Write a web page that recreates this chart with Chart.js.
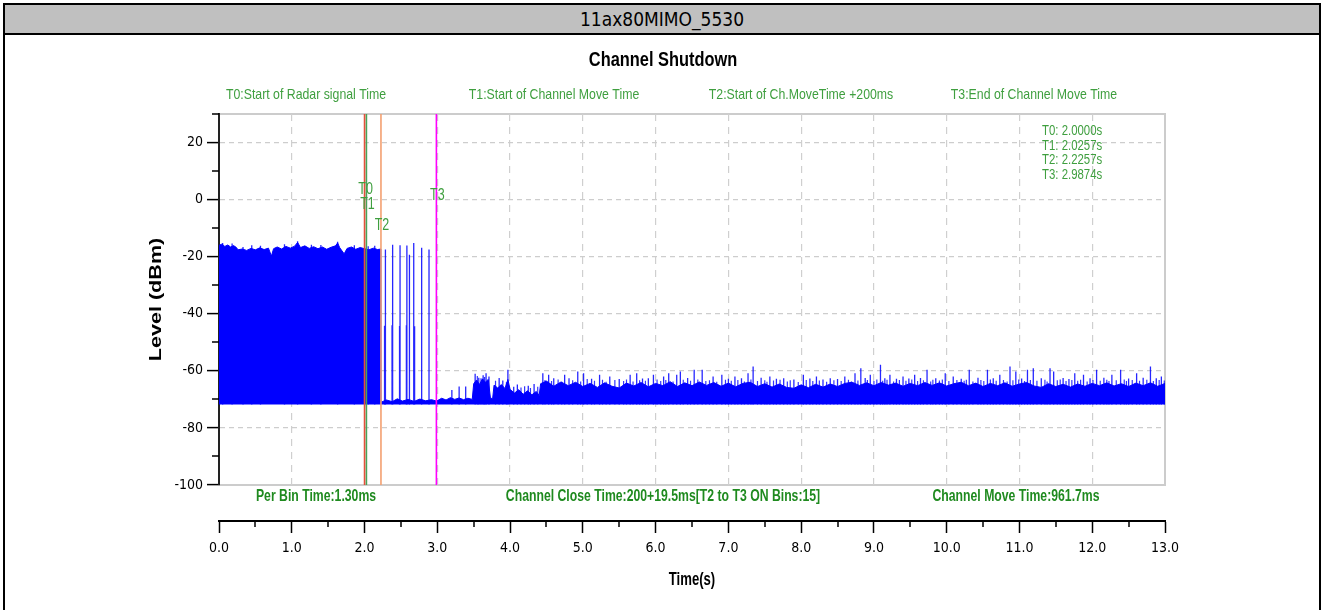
<!DOCTYPE html>
<html>
<head>
<meta charset="utf-8">
<script src="https://cdn.jsdelivr.net/npm/chart.js@4.4.1/dist/chart.umd.min.js"></script>
<style>
  body { margin: 0; background: #fff; }
  #frame { position: absolute; left: 3px; top: 3px; width: 1314px; height: 640px; border: 2px solid #000; border-bottom: none; }
  #head { height: 28px; background: #c0c0c0; border-bottom: 2px solid #000; text-align: center;
          font: 19px 'DejaVu Sans Condensed', sans-serif; line-height: 29px; }
  #grafico { position: absolute; left: 0; top: 0; }
</style>
</head>
<body>
<div id="frame"><div id="head">11ax80MIMO_5530</div></div>
<canvas id="grafico" width="1322" height="610"></canvas>
<script>
var ctx = document.getElementById('grafico').getContext('2d');

// upper edge of the dense trace (s, dBm), filled down to the noise floor
const bandT = [0.00, 0.04, 0.08, 0.12, 0.16, 0.20, 0.24, 0.26, 0.32, 0.38, 0.44, 0.50, 0.56, 0.62, 0.68, 0.72, 0.75,
  0.80, 0.86, 0.92, 0.98, 1.04, 1.08, 1.12, 1.18, 1.24, 1.30, 1.36, 1.42, 1.48, 1.54, 1.60, 1.63, 1.66, 1.72, 1.76,
  1.82, 1.88, 1.94, 2.00, 2.06, 2.12, 2.18, 2.225, 2.227,
  2.30, 2.38, 2.45, 2.52, 2.60, 2.68, 2.76, 2.84, 2.92, 2.99,
  3.06, 3.12, 3.18, 3.24, 3.30, 3.36, 3.42, 3.48, 3.50, 3.54, 3.58, 3.62, 3.66, 3.70, 3.73, 3.76, 3.78, 3.83, 3.88,
  3.93, 3.97, 4.00, 4.06, 4.12, 4.18, 4.24, 4.30, 4.36, 4.40,
  4.42, 4.50, 4.60, 4.70, 4.80, 4.90, 5.00, 5.10, 5.20, 5.30, 5.40, 5.50, 5.60, 5.70, 5.80, 5.90, 6.00, 6.10, 6.20,
  6.30, 6.40, 6.50, 6.60, 6.70, 6.80, 6.90, 7.00, 7.10, 7.20, 7.30, 7.40, 7.50, 7.60, 7.70, 7.80, 7.90, 8.00, 8.10,
  8.20, 8.30, 8.40, 8.50, 8.60, 8.70, 8.80, 8.90, 9.00, 9.10, 9.20, 9.30, 9.40, 9.50, 9.60, 9.70, 9.80, 9.90, 10.00,
  10.10, 10.20, 10.30, 10.40, 10.50, 10.60, 10.70, 10.80, 10.90, 11.00, 11.10, 11.20, 11.30, 11.40, 11.50, 11.60,
  11.70, 11.80, 11.90, 12.00, 12.10, 12.20, 12.30, 12.40, 12.50, 12.60, 12.70, 12.80, 12.90, 13.00];
const bandTop = [-16.0, -15.6, -16.4, -15.9, -16.6, -16.1, -16.8, -17.6, -17.3, -17.8, -17.1, -17.6, -16.9, -17.5, -17.0, -19.8, -17.2,
  -16.6, -17.3, -16.4, -17.0, -16.3, -15.0, -16.8, -16.2, -17.1, -16.5, -17.2, -16.6, -17.4, -16.7, -16.2, -15.2, -16.9, -19.0, -17.1,
  -16.6, -17.4, -16.8, -17.2, -17.6, -17.0, -17.5, -17.3, -71.0,
  -70.2, -70.8, -69.8, -70.6, -70.0, -70.7, -69.9, -70.5, -70.1, -70.6,
  -69.6, -70.2, -69.4, -70.0, -69.5, -70.1, -69.6, -70.0, -64.5, -63.2, -64.8, -62.8, -64.0, -63.0, -69.5, -69.8, -65.0, -66.0, -64.8,
  -66.2, -63.0, -66.5, -67.8, -66.6, -68.2, -67.0, -68.4, -67.2, -68.6,
  -64.5, -63.6, -65.4, -63.9, -65.2, -64.0, -65.5, -64.4, -65.8, -64.2, -65.4, -66.0, -64.3, -65.3, -64.1, -65.6, -64.4, -65.2, -63.8,
  -65.5, -64.2, -65.2, -63.9, -65.1, -64.1, -65.4, -64.3, -65.6, -64.4, -64.0, -65.5, -64.5, -65.7, -64.6, -65.8, -66.1, -64.9, -65.9,
  -64.7, -65.7, -64.6, -65.5, -64.4, -64.0, -65.1, -64.2, -65.2, -64.1, -65.0, -64.3, -65.4, -64.4, -65.2, -64.1, -65.1, -64.2, -65.3,
  -64.5, -64.0, -65.2, -64.3, -65.5, -64.4, -65.2, -64.2, -65.4, -64.6, -64.1, -65.3, -65.8, -64.5, -65.5, -64.7, -65.7, -64.6, -65.4,
  -64.4, -65.2, -64.2, -65.3, -64.5, -65.5, -64.3, -65.2, -64.2, -65.4, -64.4];
const floorLevel = -71.8;

// single bins that stick well out of the band (s, dBm)
const spikeT = [0.05, 0.18, 0.33, 0.45, 0.57, 0.90, 1.08, 1.27, 1.40, 1.63, 1.86, 2.05, 2.14,
  2.275, 2.287, 2.378, 2.386, 2.481, 2.488, 2.575, 2.582, 2.617, 2.676, 2.688, 2.785, 2.886,
  3.20, 3.30, 3.39, 3.52, 3.57, 3.63, 3.67, 3.71, 3.85, 3.90, 3.97, 4.05, 4.10, 4.25, 4.33,
  4.45, 4.53, 4.60, 4.75, 4.81, 4.93, 5.01, 5.12, 5.23, 5.37, 5.50, 5.65, 5.74, 5.82, 5.90, 5.97, 6.11, 6.18, 6.29,
  6.34, 6.44, 6.53, 6.64, 6.79, 6.91, 7.00, 7.09, 7.18, 7.27, 7.34, 7.45, 7.57, 7.66, 7.76, 7.90, 8.03, 8.12, 8.21,
  8.30, 8.40, 8.50, 8.60, 8.74, 8.82, 8.88, 8.95, 9.09, 9.15, 9.22, 9.31, 9.40, 9.48, 9.56, 9.64, 9.73, 9.85, 9.98,
  10.09, 10.20, 10.31, 10.43, 10.56, 10.64, 10.73, 10.87, 10.95, 11.03, 11.11, 11.19, 11.30, 11.42, 11.47, 11.60,
  11.68, 11.76, 11.88, 11.97, 12.06, 12.16, 12.27, 12.39, 12.50, 12.61, 12.70, 12.80, 12.88, 12.95];
const spikeTop = [-15.2, -15.4, -16.6, -16.0, -16.2, -15.6, -14.6, -15.8, -15.9, -14.8, -16.0, -16.3, -16.2,
  -44.2, -17.5, -44.0, -15.8, -44.3, -16.0, -44.0, -16.1, -19.3, -15.2, -44.4, -16.9, -17.5,
  -66.7, -65.5, -65.5, -61.0, -62.4, -61.5, -60.8, -62.0, -62.5, -63.4, -59.6, -65.6, -64.8, -65.2, -64.6,
  -60.8, -61.4, -62.6, -61.4, -62.6, -60.2, -60.8, -62.8, -61.4, -62.0, -62.9, -61.4, -60.8, -62.7, -62.6, -61.4, -62.0, -60.8, -61.4,
  -60.2, -62.5, -59.6, -59.6, -62.0, -61.4, -62.8, -62.0, -62.6, -60.8, -58.5, -62.4, -62.0, -62.8, -62.6, -63.0, -61.4, -62.7, -62.0,
  -63.0, -62.6, -62.9, -62.0, -60.8, -59.1, -62.5, -61.4, -57.9, -62.6, -61.4, -62.8, -62.0, -62.7, -61.4, -62.5, -59.6, -62.6, -60.8,
  -62.0, -62.8, -59.6, -62.4, -59.6, -62.6, -61.4, -58.5, -60.2, -62.7, -59.6, -59.1, -62.6, -59.1, -60.2, -62.5,
  -62.9, -60.8, -61.4, -62.6, -59.6, -62.4, -61.4, -59.6, -62.7, -60.8, -62.4, -58.5, -62.6, -62.0];

// shorter bins just above the band (s, dBm)
const fuzzT = [3.55, 3.60, 3.65, 3.80, 3.95, 4.15, 4.20, 4.28, 4.38,
  4.48, 4.57, 4.66, 4.71, 4.86, 4.97, 5.06, 5.16, 5.27, 5.32, 5.44, 5.56, 5.60, 5.69, 5.78, 5.86, 6.02, 6.07, 6.14,
  6.24, 6.38, 6.48, 6.58, 6.69, 6.74, 6.84, 6.96, 7.04, 7.13, 7.22, 7.31, 7.40, 7.50, 7.53, 7.62, 7.71, 7.81, 7.85,
  7.96, 8.07, 8.16, 8.25, 8.35, 8.45, 8.55, 8.65, 8.69, 8.78, 8.91, 9.00, 9.04, 9.12, 9.18, 9.27, 9.35, 9.44, 9.52,
  9.60, 9.68, 9.78, 9.81, 9.90, 9.94, 10.03, 10.14, 10.24, 10.27, 10.36, 10.47, 10.51, 10.60, 10.68, 10.78, 10.83,
  10.91, 10.99, 11.07, 11.15, 11.24, 11.35, 11.38, 11.52, 11.56, 11.64, 11.72, 11.80, 11.84, 11.93, 12.01, 12.11,
  12.20, 12.23, 12.33, 12.44, 12.47, 12.55, 12.65, 12.75, 12.84, 12.92, 12.99];
const fuzzTop = [-61.8, -62.6, -62.2, -63.5, -64.0, -65.8, -65.4, -66.0, -65.6,
  -63.2, -63.6, -63.0, -63.8, -63.3, -63.7, -62.9, -63.5, -63.1, -63.8, -63.2, -63.6, -63.0, -63.7, -63.3, -63.5, -63.0, -63.6, -63.2,
  -63.7, -63.1, -63.5, -63.0, -63.6, -63.3, -63.8, -63.1, -63.5, -63.2, -63.7, -63.0, -63.6, -63.3, -63.8, -63.4, -63.1, -63.7, -63.3,
  -63.9, -63.2, -63.6, -63.4, -63.8, -63.3, -63.6, -63.1, -63.7, -63.4, -63.2, -63.6, -63.0, -63.5, -63.1, -63.7, -63.2, -63.5, -63.0,
  -63.6, -63.3, -63.7, -63.1, -63.4, -63.0, -63.6, -63.2, -63.5, -63.1, -63.7, -63.2, -63.6, -63.0, -63.5, -63.2, -63.7,
  -63.3, -63.0, -63.6, -63.2, -63.5, -63.1, -63.7, -63.3, -63.0, -63.6, -63.2, -63.5, -63.1, -63.7, -63.2, -63.5,
  -63.1, -63.6, -63.3, -63.0, -63.6, -63.2, -63.5, -63.1, -63.6, -63.2, -63.4];

// event markers
const markerName = ['T0', 'T1', 'T2', 'T3'];
const markerT = [2.0000, 2.0257, 2.2257, 2.9874];
const markerColor = ['#e4503c', '#47a35a', '#f4a070', '#ff00ff'];
const markerText = ['T0:Start of Radar signal Time', 'T1:Start of Channel Move Time',
  'T2:Start of Ch.MoveTime +200ms', 'T3:End of Channel Move Time'];
const footText = ['Per Bin Time:1.30ms', 'Channel Close Time:200+19.5ms[T2 to T3 ON Bins:15]', 'Channel Move Time:961.7ms'];

const arial = "'Liberation Sans', Arial, sans-serif";
const cond = "'DejaVu Sans Condensed', sans-serif";
const green = '#3f9f3f';

function stems(ts, tops) {
  var out = [];
  ts.forEach((t, i) => out.push({x: t, y: floorLevel}, {x: t, y: tops[i]}, {x: t, y: null}));
  return out;
}

var datasets = markerT.map((t, i) => ({
  label: markerName[i],
  data: [{x: t, y: -100}, {x: t, y: 30}],
  borderColor: markerColor[i],
  borderWidth: 1.6,
  pointRadius: 0,
  order: 0
}));
datasets.push({
  label: 'spikes',
  data: stems(spikeT, spikeTop),
  borderColor: 'rgba(0,0,255,0.85)',
  borderWidth: 1.3,
  pointRadius: 0,
  order: 1
});
datasets.push({
  label: 'fuzz',
  data: stems(fuzzT, fuzzTop),
  borderColor: 'rgba(0,0,255,0.8)',
  borderWidth: 1.2,
  pointRadius: 0,
  order: 1
});
datasets.push({
  label: 'Level',
  data: bandT.map((t, i) => ({x: t, y: bandTop[i]})),
  borderColor: '#0000ff',
  backgroundColor: '#0000ff',
  borderWidth: 1,
  pointRadius: 0,
  fill: {value: floorLevel},
  order: 2
});

// narrow text: Arial metrics squeezed like Arial Narrow
function narrowText(c, text, x, y, font, sx) {
  c.save();
  c.font = font;
  c.translate(x, y);
  c.scale(sx, 1);
  c.fillText(text, 0, 0);
  c.restore();
}

const extras = {
  id: 'extras',
  beforeDraw(chart) {
    const c = chart.ctx, a = chart.chartArea;
    c.save();
    c.strokeStyle = '#cccccc';
    c.lineWidth = 2;
    c.strokeRect(a.left, a.top, a.right - a.left, a.bottom - a.top);
    c.restore();
  },
  afterDraw(chart) {
    const c = chart.ctx, a = chart.chartArea;
    const x = chart.scales.x, y = chart.scales.y, x2 = chart.scales.x2;
    c.save();
    c.strokeStyle = '#000';
    c.lineWidth = 1.5;
    c.beginPath();
    y.ticks.forEach(t => {
      if (t.value % 20 !== 0) {
        const py = Math.round(y.getPixelForValue(t.value));
        c.moveTo(a.left - 7, py); c.lineTo(a.left, py);
      }
    });
    x2.ticks.forEach(t => {
      if (!Number.isInteger(t.value)) {
        const px = Math.round(x2.getPixelForValue(t.value));
        c.moveTo(px, x2.top); c.lineTo(px, x2.top + 6);
      }
    });
    c.stroke();

    c.textAlign = 'center';
    c.textBaseline = 'middle';
    c.fillStyle = '#000';
    narrowText(c, 'Channel Shutdown', 663, 60, 'bold 21px ' + arial, 0.78);
    narrowText(c, 'Time(s)', (x2.left + x2.right) / 2, 580, 'bold 18px ' + arial, 0.73);

    // y axis title, stretched along the text
    c.save();
    c.font = 'bold 16px ' + arial;
    c.translate(157, (a.top + a.bottom) / 2);
    c.rotate(-Math.PI / 2);
    c.scale(1.35, 1);
    c.fillText('Level (dBm)', 0, 0);
    c.restore();

    c.fillStyle = green;
    [306, 554, 801, 1034].forEach((cx, i) => narrowText(c, markerText[i], cx, 95, '15px ' + arial, 0.82));

    const tagY = [190, 205, 226, 196];
    markerT.forEach((t, i) => narrowText(c, markerName[i], x.getPixelForValue(t) + 1, tagY[i], '16px ' + arial, 0.78));

    c.textAlign = 'left';
    markerT.forEach((t, i) =>
      narrowText(c, markerName[i] + ': ' + t.toFixed(4) + 's', 1042, 131 + i * 14.6, '15px ' + arial, 0.76));

    c.textAlign = 'center';
    c.fillStyle = '#1f8a1f';
    [316, 663, 1016].forEach((cx, i) => narrowText(c, footText[i], cx, 496, 'bold 17px ' + arial, 0.72));
    c.restore();
  }
};

var options = {
  responsive: false,
  animation: false,
  layout: { padding: { left: 140, right: 157, top: 114, bottom: 0 } },
  scales: {
    x: {
      type: 'linear', min: 0, max: 13, offset: false,
      afterFit: s => { s.height = 36; },
      ticks: { display: false, stepSize: 1 },
      grid: {
        drawTicks: false,
        color: c => (c.tick.value === 0 || c.tick.value === 13) ? 'transparent' : '#cfcfcf',
        lineWidth: 1.2
      },
      border: { display: false, dash: [7, 6] }
    },
    x2: {
      type: 'linear', position: 'bottom', min: 0, max: 13, weight: 1, offset: false,
      afterFit: s => { s.height = 89; },
      ticks: {
        stepSize: 0.5, autoSkip: false, maxRotation: 0, padding: 7, color: '#000',
        font: { family: cond, size: 14 },
        callback: v => Number.isInteger(v) ? v.toFixed(1) : ''
      },
      grid: {
        drawOnChartArea: false, tickLength: 12, tickWidth: 1.5,
        tickColor: c => Number.isInteger(c.tick.value) ? '#000' : 'transparent'
      },
      border: { display: true, color: '#000', width: 2 }
    },
    y: {
      min: -100, max: 30,
      afterFit: s => { s.width = 79; },
      ticks: {
        stepSize: 10, autoSkip: false, padding: 4, color: '#000',
        font: { family: cond, size: 14 },
        callback: v => v % 20 === 0 ? String(v) : ''
      },
      grid: {
        tickLength: 12, tickWidth: 1.5, lineWidth: 1.2,
        color: c => (c.tick.value % 20 === 0 && c.tick.value > -100) ? '#cdcdcd' : 'transparent',
        tickColor: c => c.tick.value % 20 === 0 ? '#000' : 'transparent'
      },
      border: { display: true, color: '#222', width: 2, dash: [5, 4] }
    }
  },
  plugins: {
    legend: { display: false },
    tooltip: { enabled: false }
  }
};

var meuGrafico = new Chart(ctx, {
  type: 'line',
  data: { datasets: datasets },
  options: options,
  plugins: [extras]
});
</script>
</body>
</html>
